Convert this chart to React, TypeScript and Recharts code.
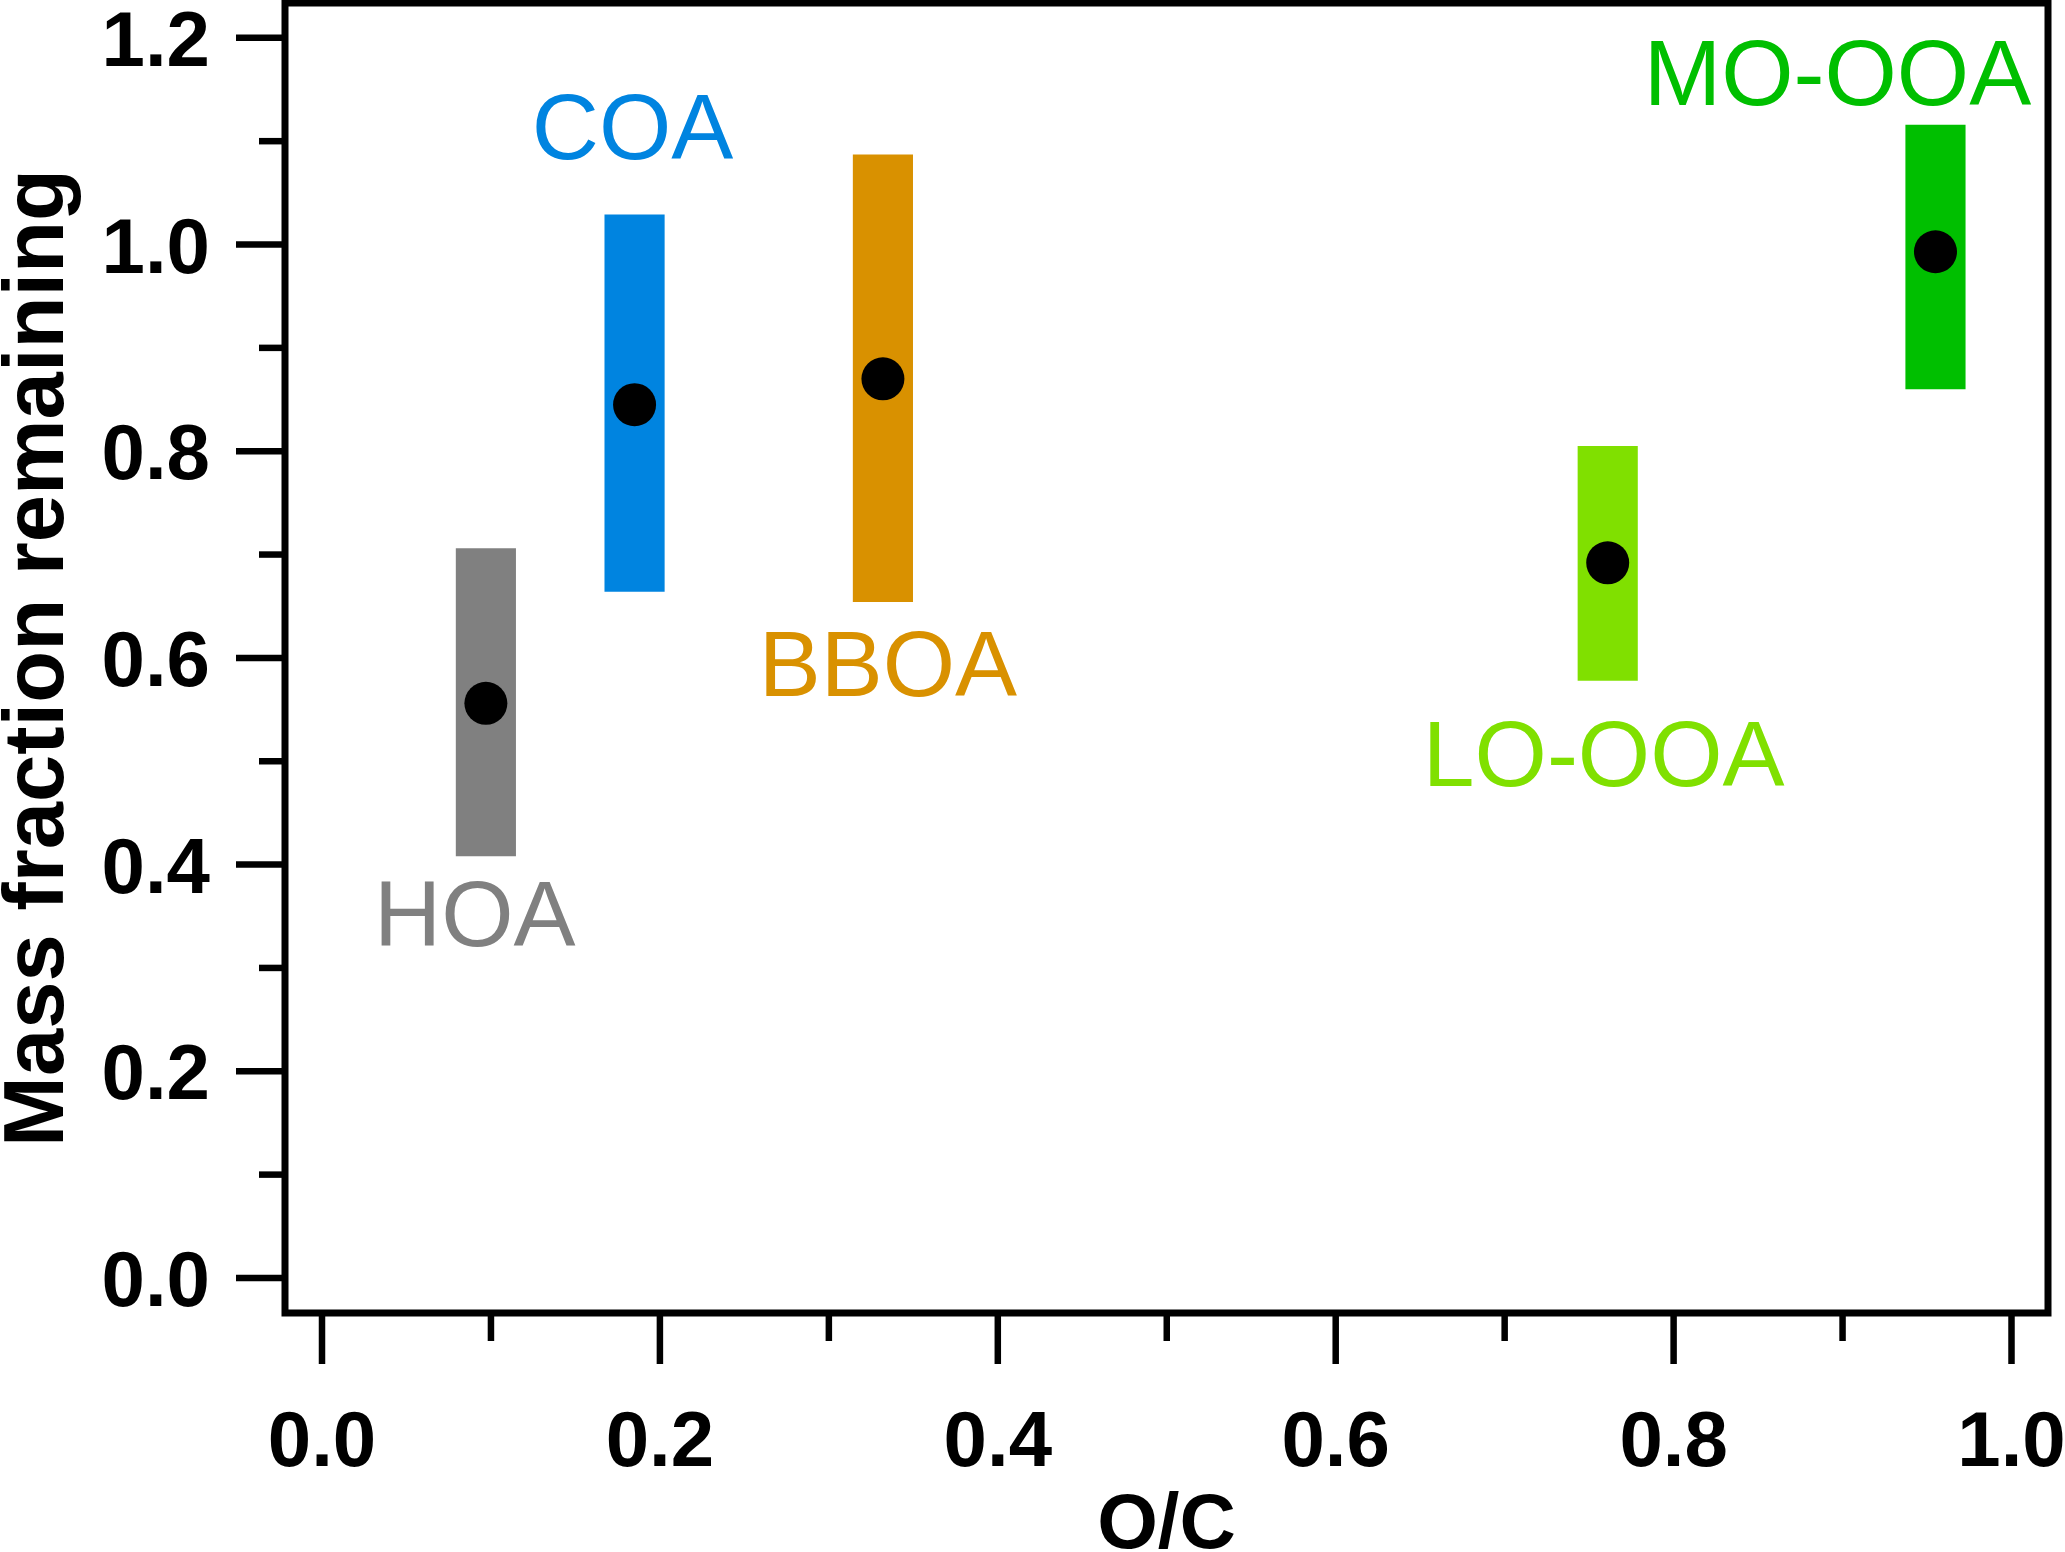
import React from 'react';
import { ComposedChart, XAxis, YAxis, Scatter, ReferenceArea } from 'recharts';

// ---- data ----
const factorNames = ['HOA', 'COA', 'BBOA', 'LO-OOA', 'MO-OOA'];
const ocValues = [0.097, 0.185, 0.332, 0.761, 0.955];
const fractionMid = [0.556, 0.845, 0.870, 0.692, 0.993];
const fractionLow = [0.408, 0.664, 0.654, 0.578, 0.860];
const fractionHigh = [0.706, 1.029, 1.087, 0.805, 1.116];

const xTicks = [0, 0.1, 0.2, 0.3, 0.4, 0.5, 0.6, 0.7, 0.8, 0.9, 1.0];
const xTickLabels = ['0.0', '', '0.2', '', '0.4', '', '0.6', '', '0.8', '', '1.0'];
const yTicks = [0, 0.1, 0.2, 0.3, 0.4, 0.5, 0.6, 0.7, 0.8, 0.9, 1.0, 1.1, 1.2];
const yTickLabels = ['0.0', '', '0.2', '', '0.4', '', '0.6', '', '0.8', '', '1.0', '', '1.2'];

const xAxisTitle = 'O/C';
const yAxisTitle = 'Mass fraction remaining';

// ---- styles ----
const factorColors = ['#808080', '#0084E0', '#D99100', '#80E000', '#00BF00'];
const X_DOMAIN: [number, number] = [-0.0219, 1.0216];
const Y_DOMAIN: [number, number] = [-0.0339, 1.2337];
const BAR_HALF_WIDTH = 0.0178;
const labelPlacement = [
  { side: 'bottom', dx: -11, gap: 90 },
  { side: 'top', dx: -2, gap: 56 },
  { side: 'bottom', dx: 5, gap: 94 },
  { side: 'bottom', dx: -4, gap: 105 },
  { side: 'top', dx: -98, gap: 20 },
];
const FONT = '"Liberation Sans", Arial, Helvetica, sans-serif';
const TICK_STROKE = 6.5;

const points = ocValues.map((x, i) => ({ x, y: fractionMid[i], name: factorNames[i] }));

const findIndex = (arr: number[], v: number) => arr.findIndex((t) => Math.abs(t - v) < 1e-9);

const YTick = (props: any) => {
  const { x, y, payload } = props;
  const i = findIndex(yTicks, payload.value);
  const label = i >= 0 ? yTickLabels[i] : '';
  const major = label !== '';
  return (
    <g>
      <line x1={x - (major ? 49 : 26)} x2={x} y1={y} y2={y} stroke="#000" strokeWidth={TICK_STROKE} />
      {major && (
        <text x={x - 75} y={y + 28} textAnchor="end" fontFamily={FONT} fontWeight="bold" fontSize={78} fill="#000">
          {label}
        </text>
      )}
    </g>
  );
};

const XTick = (props: any) => {
  const { x, y, payload } = props;
  const i = findIndex(xTicks, payload.value);
  const label = i >= 0 ? xTickLabels[i] : '';
  const major = label !== '';
  return (
    <g>
      <line x1={x} x2={x} y1={y} y2={y + (major ? 51 : 28)} stroke="#000" strokeWidth={TICK_STROKE} />
      {major && (
        <text x={x} y={y + 153} textAnchor="middle" fontFamily={FONT} fontWeight="bold" fontSize={78} fill="#000">
          {label}
        </text>
      )}
    </g>
  );
};

const makeBarLabel = (i: number) => (props: any) => {
  const vb = props.viewBox || {};
  const p = labelPlacement[i];
  const cx = vb.x + vb.width / 2 + p.dx;
  const y = p.side === 'top' ? vb.y - p.gap : vb.y + vb.height + p.gap;
  return (
    <text x={cx} y={y} textAnchor="middle" fontFamily={FONT} fontSize={93} fill={factorColors[i]}>
      {factorNames[i]}
    </text>
  );
};

const Dot = (props: any) => <circle cx={props.cx} cy={props.cy} r={21.5} fill="#000" />;

export default function App() {
  return (
    <div style={{ position: 'absolute', left: 0, top: 0, width: 2065, height: 1552, background: '#fff' }}>
      <ComposedChart width={2065} height={1552} data={points} margin={{ top: 3, right: 17, bottom: 0, left: 0 }}>
        <XAxis
          type="number"
          dataKey="x"
          domain={X_DOMAIN}
          ticks={xTicks}
          interval={0}
          allowDataOverflow
          axisLine={false}
          tickLine={false}
          tickSize={0}
          tickMargin={0}
          height={239}
          tick={<XTick />}
          label={{
            content: (p: any) => {
              const vb = p.viewBox || {};
              return (
                <text x={vb.x + vb.width / 2} y={vb.y + 235} textAnchor="middle" fontFamily={FONT} fontWeight="bold" fontSize={78} fill="#000">
                  {xAxisTitle}
                </text>
              );
            },
          }}
        />
        <YAxis
          type="number"
          domain={Y_DOMAIN}
          ticks={yTicks}
          interval={0}
          allowDataOverflow
          axisLine={false}
          tickLine={false}
          tickSize={0}
          tickMargin={0}
          width={285}
          tick={<YTick />}
          label={{
            content: (p: any) => {
              const vb = p.viewBox || {};
              const cx = 63;
              const cy = vb.y + vb.height / 2;
              return (
                <text x={cx} y={cy} transform={`rotate(-90, ${cx}, ${cy})`} textAnchor="middle" fontFamily={FONT} fontWeight="bold" fontSize={85} fill="#000">
                  {yAxisTitle}
                </text>
              );
            },
          }}
        />
        {ocValues.map((oc, i) => (
          <ReferenceArea
            key={factorNames[i]}
            x1={oc - BAR_HALF_WIDTH}
            x2={oc + BAR_HALF_WIDTH}
            y1={fractionLow[i]}
            y2={fractionHigh[i]}
            fill={factorColors[i]}
            fillOpacity={1}
            stroke="none"
            label={makeBarLabel(i)}
          />
        ))}
        <Scatter dataKey="y" isAnimationActive={false} shape={<Dot />} />
        <ReferenceArea
          x1={X_DOMAIN[0]}
          x2={X_DOMAIN[1]}
          y1={Y_DOMAIN[0]}
          y2={Y_DOMAIN[1]}
          fill="none"
          fillOpacity={0}
          stroke="#000"
          strokeWidth={7}
          ifOverflow="visible"
        />
      </ComposedChart>
    </div>
  );
}
